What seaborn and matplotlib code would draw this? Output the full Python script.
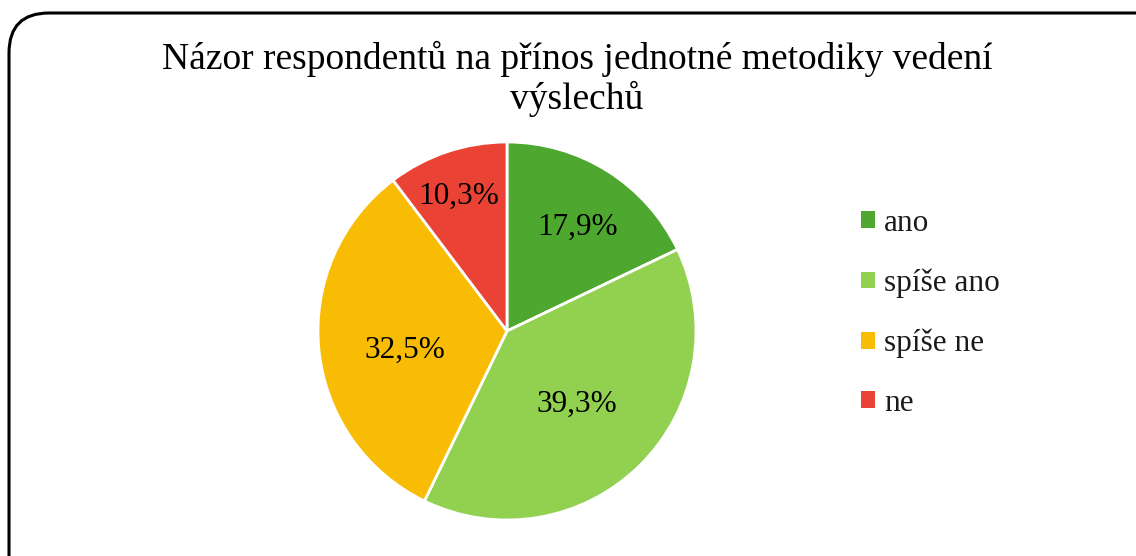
import matplotlib
matplotlib.use("Agg")
import matplotlib.pyplot as plt
import seaborn as sns
from matplotlib.patches import FancyBboxPatch
from matplotlib.transforms import IdentityTransform
import numpy as np

categories = ["ano", "spíše ano", "spíše ne", "ne"]
values = [17.9, 39.3, 32.5, 10.3]
labels = ["17,9%", "39,3%", "32,5%", "10,3%"]
title = "Názor respondentů na přínos jednotné metodiky vedení\nvýslechů"

colors = ["#4EA72E", "#92D050", "#F9BC05", "#EA4335"]
label_dist = [0.67, 0.53, 0.55, 0.77]
label_angle_shift = [-1.4, -0.3, 3.9, 0.9]

sns.set_theme(style="white")
plt.rcParams["font.family"] = ["Liberation Serif", "DejaVu Serif"]

W, H = 1136, 556
fig = plt.figure(figsize=(W / 100, H / 100), dpi=100)
fig.patch.set_facecolor("white")

cx, cy, r = 507, 331, 189
ax = fig.add_axes([(cx - r) / W, (H - cy - r) / H, 2 * r / W, 2 * r / H])
wedges, _ = ax.pie(values, colors=colors, startangle=90, counterclock=False,
                   radius=1, wedgeprops=dict(edgecolor="white", linewidth=2))
ax.set_xlim(-1, 1)
ax.set_ylim(-1, 1)
ax.set_aspect("equal")
ax.axis("off")

for w, lab, d, s in zip(wedges, labels, label_dist, label_angle_shift):
    ang = np.deg2rad((w.theta1 + w.theta2) / 2 + s)
    ax.text(d * np.cos(ang), d * np.sin(ang) - 0.012, lab, ha="center", va="center",
            fontsize=22.5, color="black")

fig.text(577 / W, 1 - 79 / H, title, ha="center", va="center", fontsize=27,
         color="black", linespacing=1.12)

leg = fig.legend(wedges, categories, loc="upper left",
                 bbox_to_anchor=(861 / W, 1 - 209 / H), frameon=False,
                 fontsize=22.5, handlelength=0.45, handleheight=0.45,
                 handletextpad=0.29, labelspacing=0.98, borderpad=0,
                 borderaxespad=0, labelcolor="#1a1a1a")
for h in leg.legend_handles:
    h.set_edgecolor("none")

border = FancyBboxPatch((9, -40), 1170, H - 13 + 40, boxstyle="round,pad=0,rounding_size=40",
                        transform=IdentityTransform(), facecolor="none",
                        edgecolor="black", linewidth=2.2)
fig.add_artist(border)

fig.savefig("out.png", dpi=100)
